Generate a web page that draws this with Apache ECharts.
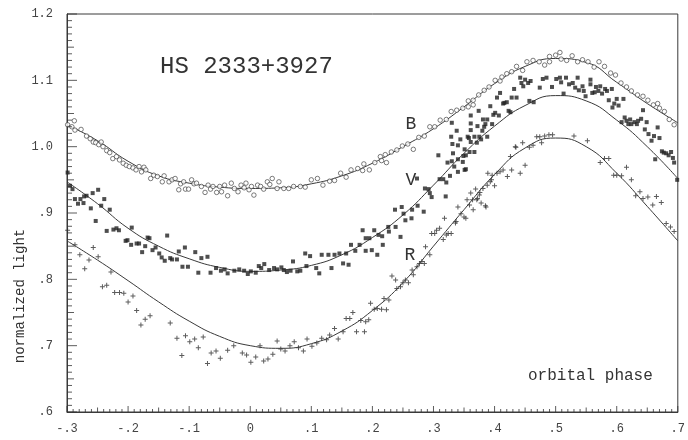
<!DOCTYPE html>
<html><head><meta charset="utf-8">
<script src="https://cdn.jsdelivr.net/npm/echarts@6/dist/echarts.min.js"></script>
<style>html,body{margin:0;padding:0;background:#fff}#c{width:688px;height:440px}</style>
</head><body><div id="c"></div>
<script>
// ---- data ----
const xTickLabels = ['-.3','-.2','-.1','0','.1','.2','.3','.4','.5','.6','.7'];
const yTickLabels = ['.6','.7','.8','.9','1.0','1.1','1.2'];
const fitPhase = [-0.30,-0.25,-0.20,-0.15,-0.10,-0.05,0.00,0.05,0.10,0.15,0.20,0.25,0.30,0.35,0.40,0.45,0.50,0.55,0.60,0.65,0.70];
const bFit = [1.033,1.009,0.978,0.956,0.945,0.939,0.937,0.938,0.944,0.956,0.975,1.000,1.027,1.060,1.095,1.121,1.133,1.127,1.097,1.065,1.036];
const vFit = [0.947,0.914,0.877,0.850,0.831,0.818,0.812,0.814,0.821,0.837,0.863,0.897,0.942,0.990,1.031,1.062,1.077,1.069,1.040,1.000,0.952];
const rFit = [0.858,0.829,0.798,0.766,0.737,0.714,0.700,0.696,0.703,0.722,0.753,0.795,0.850,0.905,0.958,0.998,1.013,1.000,0.960,0.910,0.858];

const bObs = [
[-0.299,1.033],[-0.288,1.039],[-0.287,1.025],[-0.292,1.030],[-0.277,1.026],[-0.268,1.016],[-0.262,1.012],[-0.257,1.007],[-0.253,1.006],[-0.248,1.003],
[-0.244,1.007],[-0.241,1.000],[-0.235,0.994],[-0.230,0.991],[-0.225,0.982],[-0.219,0.985],[-0.214,0.980],[-0.208,0.975],[-0.203,0.972],[-0.198,0.970],
[-0.192,0.968],[-0.187,0.965],[-0.182,0.970],[-0.178,0.962],[-0.174,0.969],[-0.171,0.965],[-0.163,0.952],[-0.158,0.957],[-0.152,0.955],[-0.144,0.947],
[-0.141,0.956],[-0.133,0.947],[-0.128,0.950],[-0.123,0.952],[-0.117,0.935],[-0.114,0.944],[-0.109,0.947],[-0.106,0.936],[-0.101,0.936],[-0.096,0.950],
[-0.092,0.944],[-0.088,0.945],[-0.080,0.940],[-0.074,0.931],[-0.069,0.942],[-0.065,0.936],[-0.061,0.940],[-0.055,0.931],[-0.050,0.940],[-0.047,0.932],
[-0.042,0.942],[-0.037,0.926],[-0.031,0.945],[-0.026,0.937],[-0.020,0.932],[-0.015,0.942],[-0.010,0.938],[-0.007,0.945],[-0.002,0.935],[0.002,0.940],
[0.006,0.927],[0.012,0.942],[0.017,0.940],[0.022,0.936],[0.028,0.947],[0.032,0.943],[0.036,0.952],[0.044,0.937],[0.047,0.947],[0.055,0.937],
[0.063,0.937],[0.071,0.940],[0.082,0.940],[0.090,0.939],[0.100,0.950],[0.110,0.952],[0.119,0.942],[0.130,0.948],[0.138,0.949],[0.148,0.960],
[0.157,0.954],[0.165,0.965],[0.176,0.967],[0.184,0.964],[0.186,0.974],[0.195,0.965],[0.204,0.976],[0.213,0.985],[0.215,0.979],[0.223,0.976],
[0.221,0.988],[0.231,0.992],[0.240,0.995],[0.249,1.001],[0.258,1.004],[0.267,0.996],[0.276,1.014],[0.285,1.016],[0.294,1.030],[0.302,1.030],
[0.311,1.040],[0.321,1.041],[0.329,1.053],[0.338,1.055],[0.348,1.058],[0.357,1.060],[0.357,1.069],[0.365,1.063],[0.365,1.070],[0.374,1.078],
[0.383,1.085],[0.391,1.090],[0.401,1.100],[0.409,1.099],[0.412,1.105],[0.420,1.110],[0.428,1.113],[0.436,1.121],[0.446,1.115],[0.453,1.128],
[0.463,1.130],[0.473,1.128],[0.482,1.123],[0.490,1.128],[0.490,1.136],[0.500,1.138],[0.507,1.142],[0.509,1.132],[0.518,1.130],[0.527,1.137],
[0.536,1.128],[0.544,1.131],[0.553,1.128],[0.563,1.120],[0.571,1.128],[0.580,1.121],[0.590,1.111],[0.598,1.108],[0.607,1.096],[0.616,1.090],
[0.624,1.084],[0.634,1.078],[0.643,1.076],[0.651,1.070],[0.660,1.063],[0.667,1.065],[0.670,1.058],[0.678,1.053],[0.686,1.041],[0.694,1.033]
];

const vObs = [
[-0.299,0.961],[-0.295,0.941],[-0.291,0.936],[-0.287,0.921],[-0.282,0.914],[-0.278,0.921],[-0.273,0.915],[-0.272,0.925],[-0.268,0.926],[-0.261,0.907],
[-0.258,0.930],[-0.253,0.888],[-0.249,0.935],[-0.244,0.911],[-0.239,0.921],[-0.235,0.873],[-0.230,0.905],[-0.224,0.875],[-0.219,0.877],[-0.215,0.874],
[-0.204,0.858],[-0.201,0.859],[-0.195,0.852],[-0.194,0.878],[-0.186,0.854],[-0.182,0.854],[-0.177,0.841],[-0.172,0.850],[-0.168,0.863],[-0.165,0.862],
[-0.160,0.844],[-0.155,0.848],[-0.149,0.839],[-0.145,0.833],[-0.140,0.828],[-0.136,0.866],[-0.131,0.832],[-0.128,0.830],[-0.120,0.830],[-0.117,0.842],
[-0.111,0.819],[-0.107,0.848],[-0.102,0.819],[-0.090,0.841],[-0.085,0.810],[-0.080,0.832],[-0.070,0.834],[-0.065,0.810],[-0.056,0.817],[-0.048,0.813],
[-0.042,0.815],[-0.037,0.809],[-0.026,0.813],[-0.018,0.815],[-0.010,0.813],[-0.004,0.808],[0.001,0.812],[0.009,0.810],[0.014,0.820],[0.018,0.817],
[0.023,0.823],[0.031,0.814],[0.039,0.817],[0.044,0.815],[0.051,0.818],[0.055,0.814],[0.060,0.811],[0.066,0.813],[0.070,0.827],[0.077,0.812],
[0.082,0.813],[0.090,0.839],[0.092,0.820],[0.098,0.835],[0.108,0.817],[0.113,0.809],[0.117,0.837],[0.128,0.837],[0.133,0.817],[0.138,0.837],
[0.146,0.839],[0.152,0.824],[0.157,0.839],[0.161,0.822],[0.165,0.852],[0.172,0.843],[0.179,0.852],[0.184,0.874],[0.189,0.843],[0.189,0.862],
[0.195,0.862],[0.199,0.844],[0.203,0.874],[0.208,0.837],[0.210,0.867],[0.216,0.865],[0.217,0.852],[0.226,0.879],[0.227,0.872],[0.237,0.905],
[0.238,0.879],[0.248,0.909],[0.246,0.864],[0.251,0.899],[0.254,0.889],[0.264,0.892],[0.265,0.905],[0.273,0.952],[0.274,0.911],[0.284,0.902],
[0.286,0.937],[0.292,0.936],[0.294,0.930],[0.297,0.924],[0.308,0.987],[0.310,0.951],[0.316,0.951],[0.321,0.946],[0.320,0.925],[0.327,0.956],
[0.329,1.015],[0.332,0.990],[0.334,0.970],[0.340,0.962],[0.340,1.002],[0.348,0.977],[0.351,0.965],[0.353,0.966],[0.356,1.015],[0.359,0.992],
[0.361,1.025],[0.361,1.007],[0.367,0.992],[0.371,1.006],[0.375,1.015],[0.378,1.011],[0.383,1.030],[0.388,1.015],[0.398,1.048],
[0.323,0.976],[0.330,0.978],[0.330,1.036],[0.331,1.004],[0.338,1.024],[0.340,0.981],[0.344,1.011],[0.349,0.986],[0.351,0.996],[0.353,0.987],
[0.358,1.013],[0.361,1.035],[0.361,1.047],[0.367,1.015],[0.372,1.031],[0.374,1.054],[0.380,1.024],[0.381,1.041],[0.385,1.034],[0.388,1.041],
[0.393,1.061],[0.396,1.034],[0.401,1.051],[0.404,1.074],[0.407,1.047],[0.409,1.081],[0.414,1.065],[0.416,1.066],[0.420,1.067],[0.423,1.054],
[0.426,1.052],[0.428,1.074],[0.432,1.087],[0.436,1.074],[0.442,1.104],[0.444,1.096],[0.447,1.091],[0.450,1.101],[0.455,1.096],[0.457,1.069],
[0.459,1.099],[0.464,1.067],[0.474,1.089],[0.479,1.102],[0.485,1.104],[0.494,1.090],[0.501,1.102],[0.507,1.104],[0.509,1.097],[0.513,1.080],
[0.517,1.104],[0.522,1.094],[0.528,1.096],[0.532,1.089],[0.536,1.104],[0.538,1.085],[0.544,1.091],[0.546,1.084],[0.549,1.076],[0.557,1.101],
[0.557,1.094],[0.560,1.081],[0.564,1.082],[0.566,1.090],[0.570,1.084],[0.573,1.091],[0.576,1.080],[0.581,1.087],[0.584,1.084],[0.587,1.070],
[0.592,1.087],[0.593,1.059],[0.596,1.065],[0.600,1.072],[0.603,1.062],[0.611,1.072],[0.608,1.037],[0.613,1.044],[0.616,1.039],[0.619,1.034],
[0.622,1.041],[0.624,1.034],[0.629,1.037],[0.633,1.034],[0.635,1.039],[0.640,1.042],[0.643,1.055],[0.646,1.026],[0.649,1.037],[0.652,1.019],
[0.657,1.009],[0.661,1.016],[0.663,0.981],[0.667,1.029],[0.670,1.013],[0.674,0.993],[0.677,0.991],[0.681,0.990],[0.685,0.987],[0.689,0.992],
[0.692,0.983],[0.694,0.976],[0.699,0.950]
];

const rObs = [
[-0.299,0.874],[-0.287,0.852],[-0.279,0.837],[-0.271,0.816],[-0.264,0.829],[-0.257,0.848],[-0.249,0.834],[-0.242,0.789],[-0.235,0.791],[-0.228,0.811],
[-0.222,0.780],[-0.214,0.780],[-0.207,0.779],[-0.200,0.766],[-0.192,0.775],[-0.186,0.753],[-0.179,0.731],[-0.172,0.740],[-0.164,0.745],[-0.131,0.734],
[-0.120,0.711],[-0.112,0.685],[-0.106,0.715],[-0.099,0.706],[-0.091,0.710],[-0.085,0.697],[-0.077,0.713],[-0.070,0.673],[-0.064,0.689],[-0.056,0.692],
[-0.049,0.681],[-0.037,0.693],[-0.027,0.700],[-0.013,0.689],[-0.006,0.686],[0.001,0.675],[0.009,0.683],[0.016,0.700],[0.022,0.677],[0.029,0.680],
[0.037,0.687],[0.044,0.707],[0.050,0.695],[0.057,0.692],[0.065,0.700],[0.072,0.706],[0.079,0.697],[0.087,0.692],[0.093,0.710],[0.101,0.699],
[0.109,0.704],[0.117,0.711],[0.125,0.709],[0.130,0.716],[0.138,0.726],[0.144,0.710],[0.152,0.721],[0.157,0.741],[0.163,0.741],[0.168,0.750],
[0.174,0.721],[0.181,0.738],[0.187,0.721],[0.189,0.736],[0.194,0.739],[0.197,0.764],[0.203,0.755],[0.208,0.756],[0.215,0.755],[0.219,0.771],
[0.223,0.754],[0.227,0.769],[0.232,0.805],[0.238,0.799],[0.240,0.786],[0.246,0.789],[0.250,0.795],[0.254,0.799],[0.259,0.795],[0.265,0.814],
[0.267,0.807],[0.273,0.819],[0.277,0.824],[0.281,0.827],[0.285,0.824],[0.287,0.849],[0.294,0.837],[0.297,0.869],[0.302,0.869],[0.305,0.874],
[0.310,0.877],[0.316,0.860],[0.318,0.892],[0.321,0.867],[0.324,0.869],[0.329,0.869],[0.336,0.885],[0.337,0.887],[0.340,0.909],[0.345,0.899],
[0.350,0.894],[0.353,0.892],[0.355,0.920],[0.359,0.912],[0.361,0.930],[0.364,0.920],[0.365,0.905],[0.369,0.936],[0.371,0.920],[0.372,0.922],
[0.375,0.927],[0.376,0.931],[0.378,0.915],[0.381,0.937],[0.385,0.911],[0.386,0.909],[0.388,0.942],[0.389,0.960],[0.393,0.947],[0.395,0.950],
[0.396,0.957],[0.400,0.941],[0.404,0.960],[0.409,0.962],[0.414,0.965],[0.421,0.955],[0.426,0.985],[0.428,0.965],[0.434,1.000],[0.435,0.999],
[0.442,0.960],[0.446,1.006],[0.450,0.972],[0.457,0.999],[0.463,1.002],[0.469,1.015],[0.474,1.015],[0.477,1.006],[0.482,1.016],[0.489,1.018],
[0.495,1.018],[0.530,1.016],[0.552,1.009],[0.573,0.976],[0.580,0.982],[0.587,0.982],[0.595,0.957],[0.600,0.957],[0.608,0.956],[0.616,0.969],
[0.624,0.950],[0.631,0.926],[0.638,0.932],[0.643,0.922],[0.651,0.924],[0.659,0.912],[0.665,0.925],[0.673,0.916],[0.681,0.884],[0.688,0.879],
[0.694,0.872]
];

// ---- chart ----
const ink = '#3a3a3a';
const mono = 'Liberation Mono';
const X_MIN = -0.3, X_MAX = 0.7, Y_MIN = 0.6, Y_MAX = 1.2;
const chart = echarts.init(document.getElementById('c'), null, {renderer:'canvas'});
const pair = (xs, ys) => xs.map((x, i) => [x, ys[i]]);
const plusPath = 'path://M2,0H3V2H5V3H3V5H2V3H0V2H2Z';

// inward tick marks every 0.01 on the bottom and left axes, drawn as thin bar symbols
const xTicks = [], yTicks = [];
for (let k = -30; k <= 70; k++) {
  const m = ((k % 10) + 10) % 10;
  const len = m === 0 ? 6 : (m === 5 ? 4.5 : 3);
  xTicks.push({value:[k / 100, Y_MIN], symbolSize:[1, len], symbolOffset:[0, -len / 2]});
}
for (let k = 60; k <= 120; k++) {
  const m = k % 10;
  const len = m === 0 ? 10 : (m === 5 ? 7 : 5);
  yTicks.push({value:[X_MIN, k / 100], symbolSize:[len, 1], symbolOffset:[len / 2, 0]});
}
const tickStyle = {type:'scatter', symbol:'rect', silent:true, clip:false, z:6, itemStyle:{color:'#333'}};

const option = {
  animation:false,
  backgroundColor:'#ffffff',
  grid:{left:67, top:14, width:620, height:398, show:true, borderColor:ink, borderWidth:1, backgroundColor:'transparent'},
  xAxis:{
    type:'value', min:X_MIN, max:X_MAX, interval:0.1,
    axisLine:{show:true, onZero:false, lineStyle:{color:ink, width:1}},
    axisTick:{show:false}, splitLine:{show:false},
    axisLabel:{margin:11, fontFamily:mono, fontSize:12, color:'#444', showMinLabel:true, showMaxLabel:true,
      formatter:v => xTickLabels[Math.round((v + 0.3) * 10)]}
  },
  yAxis:{
    type:'value', min:Y_MIN, max:Y_MAX, interval:0.1,
    axisLine:{show:true, onZero:false, lineStyle:{color:ink, width:1}},
    axisTick:{show:false}, splitLine:{show:false},
    axisLabel:{margin:14, fontFamily:mono, fontSize:12, color:'#444', showMinLabel:true, showMaxLabel:true,
      formatter:v => yTickLabels[Math.round((v - 0.6) * 10)]}
  },
  series:[
    Object.assign({data:xTicks}, tickStyle),
    Object.assign({data:yTicks}, tickStyle),
    {type:'line', data:pair(fitPhase, bFit), smooth:0.5, showSymbol:false, lineStyle:{color:ink, width:1}, z:3},
    {type:'line', data:pair(fitPhase, vFit), smooth:0.5, showSymbol:false, lineStyle:{color:ink, width:1}, z:3},
    {type:'line', data:pair(fitPhase, rFit), smooth:0.5, showSymbol:false, lineStyle:{color:ink, width:1}, z:3},
    {type:'scatter', data:bObs, symbol:'circle', symbolSize:4.5, itemStyle:{color:'#fff', borderColor:'#333', borderWidth:0.8}, z:4},
    {type:'scatter', data:vObs, symbol:'rect', symbolSize:4, itemStyle:{color:'#222'}, z:4},
    {type:'scatter', data:rObs, symbol:plusPath, symbolSize:5, itemStyle:{color:'#333'}, z:4}
  ],
  graphic:[
    {type:'text', x:160, y:67, style:{text:'HS 2333+3927', font:'24px "Liberation Mono"', fill:'#333', verticalAlign:'middle'}},
    {type:'text', x:411, y:124, style:{text:'B', font:'18px "Liberation Mono"', fill:'#333', align:'center', verticalAlign:'middle'}},
    {type:'text', x:411, y:180, style:{text:'V', font:'18px "Liberation Mono"', fill:'#333', align:'center', verticalAlign:'middle'}},
    {type:'text', x:410, y:255, style:{text:'R', font:'18px "Liberation Mono"', fill:'#333', align:'center', verticalAlign:'middle'}},
    {type:'text', x:528, y:376, style:{text:'orbital phase', font:'16px "Liberation Mono"', fill:'#333', verticalAlign:'middle'}},
    {type:'text', x:20, y:296, rotation:Math.PI/2, style:{text:'normalized light', font:'14px "Liberation Mono"', fill:'#333', align:'center', verticalAlign:'middle'}}
  ]
};
chart.setOption(option);
</script>
</body></html>
